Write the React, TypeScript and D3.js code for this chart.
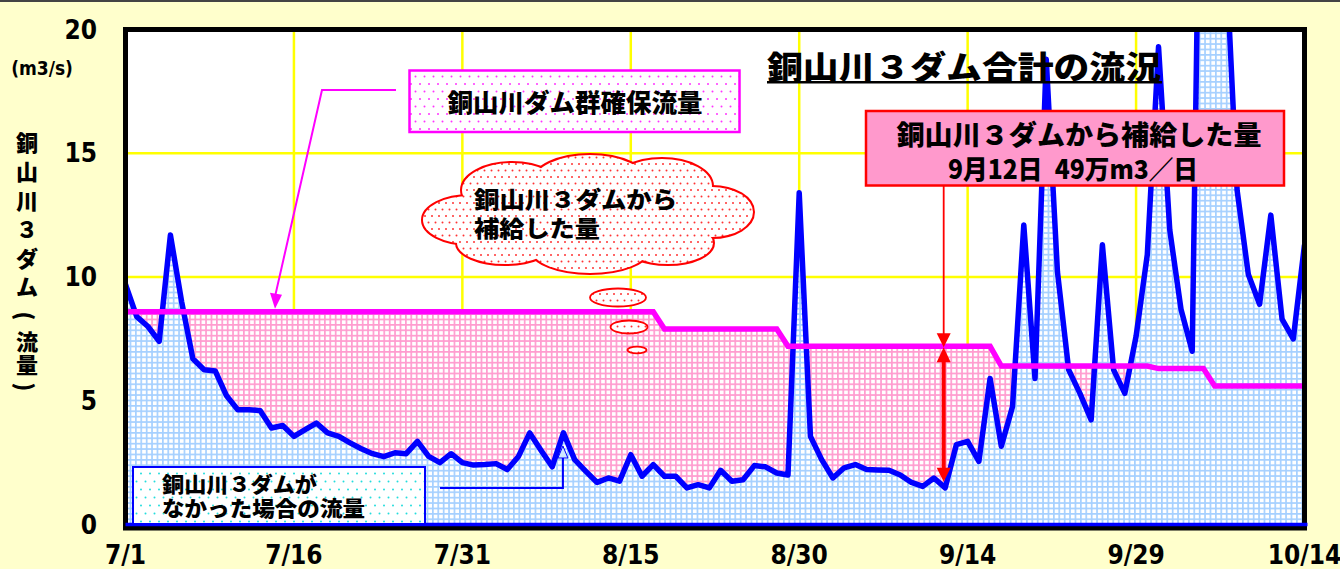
import React, { useEffect, useRef } from 'react'
import * as d3 from 'd3'

// 7/1 - 10/14 daily values (m3/s)
const tickLabels = ['7/1', '7/16', '7/31', '8/15', '8/30', '9/14', '9/29', '10/14']
const yTicks = [0, 5, 10, 15, 20]

// flow if the 3 dams did not exist
const noDamFlow = [
	9.7, 8.4, 8.0, 7.4, 11.7, 9.0, 6.7, 6.25, 6.2, 5.2,
	4.64, 4.64, 4.6, 3.9, 4.0, 3.56, 3.83, 4.1, 3.7, 3.56,
	3.3, 3.06, 2.86, 2.74, 2.9, 2.86, 3.36, 2.75, 2.5, 2.86,
	2.5, 2.4, 2.42, 2.46, 2.22, 2.75, 3.7, 3.0, 2.33, 3.7,
	2.62, 2.15, 1.7, 1.88, 1.75, 2.82, 1.95, 2.42, 1.95, 1.95,
	1.48, 1.61, 1.48, 2.19, 1.75, 1.81, 2.38, 2.33, 2.08, 2.0,
	13.4, 3.56, 2.62, 1.88, 2.29, 2.42, 2.22, 2.2, 2.19, 2.0,
	1.7, 1.54, 1.88, 1.48, 3.23, 3.36, 2.55, 5.9, 3.16, 4.77,
	12.1, 5.9, 18.8, 10.2, 6.25, 5.3, 4.23, 11.3, 6.25, 5.3,
	7.6, 10.9, 19.3, 11.9, 8.7, 7.0, 38, 35, 23, 13.5,
	10.1, 8.9, 12.5, 8.3, 7.5, 11.3,
]

// secured flow of the dam group
const securedFlow = [
	8.6, 8.6, 8.6, 8.6, 8.6, 8.6, 8.6, 8.6, 8.6, 8.6,
	8.6, 8.6, 8.6, 8.6, 8.6, 8.6, 8.6, 8.6, 8.6, 8.6,
	8.6, 8.6, 8.6, 8.6, 8.6, 8.6, 8.6, 8.6, 8.6, 8.6,
	8.6, 8.6, 8.6, 8.6, 8.6, 8.6, 8.6, 8.6, 8.6, 8.6,
	8.6, 8.6, 8.6, 8.6, 8.6, 8.6, 8.6, 8.6, 7.9, 7.9,
	7.9, 7.9, 7.9, 7.9, 7.9, 7.9, 7.9, 7.9, 7.9, 7.2,
	7.2, 7.2, 7.2, 7.2, 7.2, 7.2, 7.2, 7.2, 7.2, 7.2,
	7.2, 7.2, 7.2, 7.2, 7.2, 7.2, 7.2, 7.2, 6.4, 6.4,
	6.4, 6.4, 6.4, 6.4, 6.4, 6.4, 6.4, 6.4, 6.4, 6.4,
	6.4, 6.4, 6.3, 6.3, 6.3, 6.3, 6.3, 5.6, 5.6, 5.6,
	5.6, 5.6, 5.6, 5.6, 5.6, 5.6,
]

const supplyDay = '9/12'

const jp = '"Noto Sans CJK JP", "Noto Sans", sans-serif'
const num = '"Liberation Sans Narrow", "DejaVu Sans Condensed", sans-serif'

const toDate = (label: string) => {
	const [m, d] = label.split('/').map(Number)
	return new Date(Date.UTC(2014, m - 1, d))
}

const App = () => {
	const ref = useRef<SVGSVGElement>(null)

	useEffect(() => {
		document.body.style.margin = '0'
		const svg = d3.select(ref.current)
		svg.selectAll('*').remove()

		const start = toDate(tickLabels[0])
		const dates = noDamFlow.map((_, i) => d3.utcDay.offset(start, i))
		const rows = dates.map((date, i) => ({ date, flow: noDamFlow[i], secured: securedFlow[i] }))

		const x = d3.scaleUtc().domain([dates[0], dates[dates.length - 1]]).range([125.5, 1304.5])
		const y = d3.scaleLinear().domain([0, 20]).range([524.5, 29.5])

		const defs = svg.append('defs')

		const gridPattern = (id: string, color: string) => {
			const s = 5.4
			const p = defs.append('pattern').attr('id', id).attr('patternUnits', 'userSpaceOnUse')
				.attr('width', s).attr('height', s)
			p.append('rect').attr('width', s).attr('height', s).attr('fill', '#fff')
			p.append('rect').attr('width', s).attr('height', 1.7).attr('fill', color)
			p.append('rect').attr('width', 1.7).attr('height', s).attr('fill', color)
		}
		gridPattern('blueGrid', '#a6d0ff')
		gridPattern('pinkGrid', '#ff9ccf')

		const dotPattern = (id: string, color: string, w: number, h: number) => {
			const p = defs.append('pattern').attr('id', id).attr('patternUnits', 'userSpaceOnUse')
				.attr('width', w).attr('height', h)
			p.append('rect').attr('width', w).attr('height', h).attr('fill', '#fff')
			p.append('circle').attr('cx', 1.5).attr('cy', 1.5).attr('r', 1).attr('fill', color)
			p.append('circle').attr('cx', 1.5 + w / 2).attr('cy', 1.5 + h / 2).attr('r', 1).attr('fill', color)
		}
		dotPattern('magentaDots', '#ff33ff', 9, 15)
		dotPattern('redDots', '#ff3333', 7, 13)
		dotPattern('cyanDots', '#22dddd', 9, 16)

		defs.append('clipPath').attr('id', 'plotClip')
			.append('rect').attr('x', 128).attr('y', 32).attr('width', 1174).attr('height', 494)

		// page
		svg.append('rect').attr('width', 1340).attr('height', 569).attr('fill', '#ffffcc')
		svg.append('rect').attr('width', 1340).attr('height', 2).attr('fill', '#444')

		svg.append('rect')
			.attr('x', x.range()[0]).attr('y', y(20))
			.attr('width', x.range()[1] - x.range()[0]).attr('height', y(0) - y(20))
			.attr('fill', '#fff')

		// yellow grid
		const grid = svg.append('g').attr('stroke', '#ffff00').attr('stroke-width', 2.5)
		grid.selectAll('line.h').data(yTicks.slice(1, -1)).enter().append('line')
			.attr('x1', x.range()[0]).attr('x2', x.range()[1])
			.attr('y1', d => y(d)).attr('y2', d => y(d))
		grid.selectAll('line.v').data(tickLabels.slice(1, -1)).enter().append('line')
			.attr('x1', d => x(toDate(d))).attr('x2', d => x(toDate(d)))
			.attr('y1', y(20)).attr('y2', y(0))

		const plot = svg.append('g').attr('clip-path', 'url(#plotClip)')

		const securedArea = d3.area<any>().x(d => x(d.date)).y0(y(0)).y1(d => y(d.secured))
		const flowArea = d3.area<any>().x(d => x(d.date)).y0(y(0)).y1(d => y(d.flow))
		plot.append('path').attr('d', securedArea(rows)).attr('fill', 'url(#pinkGrid)')
		plot.append('path').attr('d', flowArea(rows)).attr('fill', 'url(#blueGrid)')

		const securedLine = d3.line<any>().x(d => x(d.date)).y(d => y(d.secured))
		const flowLine = d3.line<any>().x(d => x(d.date)).y(d => y(d.flow))
		plot.append('path').attr('d', flowLine(rows)).attr('fill', 'none')
			.attr('stroke', '#0000ff').attr('stroke-width', 5.5).attr('stroke-linejoin', 'round')
		plot.append('path').attr('d', securedLine(rows)).attr('fill', 'none')
			.attr('stroke', '#ff00ff').attr('stroke-width', 5.5)

		// frame
		svg.append('rect')
			.attr('x', x.range()[0]).attr('y', y(20))
			.attr('width', x.range()[1] - x.range()[0]).attr('height', y(0) - y(20) + 3.5)
			.attr('fill', 'none').attr('stroke', '#000').attr('stroke-width', 5)
		svg.append('line')
			.attr('x1', x.range()[0]).attr('x2', x.range()[1] + 3)
			.attr('y1', y(0)).attr('y2', y(0))
			.attr('stroke', '#0000ff').attr('stroke-width', 3.5)

		// axes labels
		svg.append('g').selectAll('text').data(yTicks).enter().append('text')
			.attr('x', 97).attr('y', d => y(d))
			.attr('text-anchor', 'end').attr('dominant-baseline', 'central')
			.attr('font-family', num).attr('font-weight', 700).attr('font-size', 26)
			.text(d => d)
		svg.append('g').selectAll('text').data(tickLabels).enter().append('text')
			.attr('x', d => x(toDate(d))).attr('y', 555)
			.attr('text-anchor', 'middle').attr('dominant-baseline', 'central')
			.attr('font-family', num).attr('font-weight', 700).attr('font-size', 26)
			.text(d => d)

		svg.append('text').attr('x', 42).attr('y', 68)
			.attr('text-anchor', 'middle').attr('dominant-baseline', 'central')
			.attr('font-family', num).attr('font-weight', 700).attr('font-size', 19)
			.text('(m3/s)')

		// vertical axis title, parentheses turned for vertical writing
		const vTitle = ['銅', '山', '川', '３', 'ダ', 'ム', '(', '流', '量', ')']
		const vY = [141, 170, 199, 228, 257, 285, 316, 340, 363, 387]
		svg.append('g').selectAll('text').data(vTitle).enter().append('text')
			.attr('transform', (d, i) => `translate(27,${vY[i]})` + (d === '(' || d === ')' ? ' rotate(90)' : ''))
			.attr('text-anchor', 'middle').attr('dominant-baseline', 'central')
			.attr('font-family', jp).attr('font-weight', 900).attr('font-size', 22)
			.text(d => d)

		const label = (g: any, tx: number, ty: number, str: string, size: number, len?: number, anchor = 'middle') => {
			const t = g.append('text').attr('x', tx).attr('y', ty)
				.attr('text-anchor', anchor).attr('dominant-baseline', 'central')
				.attr('font-family', jp).attr('font-weight', 900).attr('font-size', size)
				.attr('fill', '#000')
				.text(str)
			if (len) t.attr('textLength', len).attr('lengthAdjust', 'spacingAndGlyphs')
			return t
		}

		const notes = svg.append('g')

		// title
		label(notes, 964, 65, '銅山川３ダム合計の流況', 32, 394)
		notes.append('rect').attr('x', 767).attr('y', 81).attr('width', 395).attr('height', 2.5).attr('fill', '#000')

		// secured flow label + leader
		notes.append('rect').attr('x', 409.5).attr('y', 70.5).attr('width', 330).attr('height', 61.5)
			.attr('fill', 'url(#magentaDots)').attr('stroke', '#ff00ff').attr('stroke-width', 2.5)
		label(notes, 575, 101, '銅山川ダム群確保流量', 25, 255)
		const tipX = 275, tipY = y(securedFlow[13]) - 3
		notes.append('polyline')
			.attr('points', `396,90 322,90 ${tipX},${tipY - 12}`)
			.attr('fill', 'none').attr('stroke', '#ff00ff').attr('stroke-width', 2)
		notes.append('path')
			.attr('d', `M${tipX},${tipY} L${tipX - 5},${tipY - 16} L${tipX + 7},${tipY - 14} Z`)
			.attr('fill', '#ff00ff')

		// cloud
		const cloud = [
			[470, 220, 47, 24], [512, 190, 50, 27], [590, 182, 57, 27], [662, 186, 50, 27],
			[712, 212, 41, 25], [668, 243, 45, 21], [590, 250, 58, 23], [505, 243, 48, 21],
			[588, 215, 120, 36],
		]
		const cg = notes.append('g')
		cg.selectAll('ellipse.o').data(cloud).enter().append('ellipse')
			.attr('cx', d => d[0]).attr('cy', d => d[1]).attr('rx', d => d[2]).attr('ry', d => d[3])
			.attr('fill', '#ff0000').attr('stroke', '#ff0000').attr('stroke-width', 4)
		cg.selectAll('ellipse.i').data(cloud).enter().append('ellipse')
			.attr('cx', d => d[0]).attr('cy', d => d[1]).attr('rx', d => d[2]).attr('ry', d => d[3])
			.attr('fill', 'url(#redDots)')
		const bubbles = [[618, 297.5, 28, 9], [629, 327, 18.5, 6.5], [637, 350, 9.5, 3.3]]
		notes.selectAll('ellipse.b').data(bubbles).enter().append('ellipse')
			.attr('cx', d => d[0]).attr('cy', d => d[1]).attr('rx', d => d[2]).attr('ry', d => d[3])
			.attr('fill', 'url(#redDots)').attr('stroke', '#ff0000').attr('stroke-width', 1.8)
		label(notes, 474, 198, '銅山川３ダムから', 23, 203, 'start')
		label(notes, 474, 227, '補給した量', 23, 126, 'start')

		// supply box
		notes.append('rect').attr('x', 866).attr('y', 111).attr('width', 418).attr('height', 74.5)
			.attr('fill', '#ff99cc').attr('stroke', '#ff0000').attr('stroke-width', 2.5)
		label(notes, 1079, 133, '銅山川３ダムから補給した量', 27, 365)
		label(notes, 1073, 167.5, '9月12日\u200249万m3／日', 26, 250)

		// supply arrow
		const si = d3.utcDay.count(start, toDate(supplyDay))
		const ax = x(dates[si]) - 1.5
		const aTop = y(securedFlow[si]) + 1
		const aBot = y(noDamFlow[si]) - 6
		notes.append('line').attr('x1', ax).attr('x2', ax).attr('y1', 186).attr('y2', aTop - 12)
			.attr('stroke', '#ff0000').attr('stroke-width', 1.8)
		notes.append('path').attr('d', `M${ax - 7},${aTop - 14} L${ax + 7},${aTop - 14} L${ax},${aTop} Z`).attr('fill', '#ff0000')
		notes.append('path').attr('d', `M${ax - 7},${aTop + 15} L${ax + 7},${aTop + 15} L${ax},${aTop} Z`).attr('fill', '#ff0000')
		notes.append('line').attr('x1', ax).attr('x2', ax).attr('y1', aTop + 12).attr('y2', aBot - 12)
			.attr('stroke', '#ff0000').attr('stroke-width', 4)
		notes.append('path').attr('d', `M${ax - 7},${aBot - 14} L${ax + 7},${aBot - 14} L${ax},${aBot} Z`).attr('fill', '#ff0000')

		// no-dam label box + leader
		notes.append('rect').attr('x', 133).attr('y', 467).attr('width', 292).attr('height', 57)
			.attr('fill', 'url(#cyanDots)').attr('stroke', '#0000ff').attr('stroke-width', 2)
		label(notes, 162, 483, '銅山川３ダムが', 21, 155, 'start')
		label(notes, 162, 507, 'なかった場合の流量', 21, 203, 'start')
		const lx = x(d3.utcDay.offset(start, 39)) - 0.5
		notes.append('polyline').attr('points', `440,488 ${lx},488 ${lx},456`)
			.attr('fill', 'none').attr('stroke', '#0000ff').attr('stroke-width', 2)
		notes.append('path').attr('d', `M${lx},446 L${lx - 5},458 L${lx + 5},458 Z`)
			.attr('fill', '#cfe6ff').attr('stroke', '#0000ff').attr('stroke-width', 1)
	}, [])

	return <svg ref={ref} width={1340} height={569} style={{ display: 'block' }} />
}

export default App
